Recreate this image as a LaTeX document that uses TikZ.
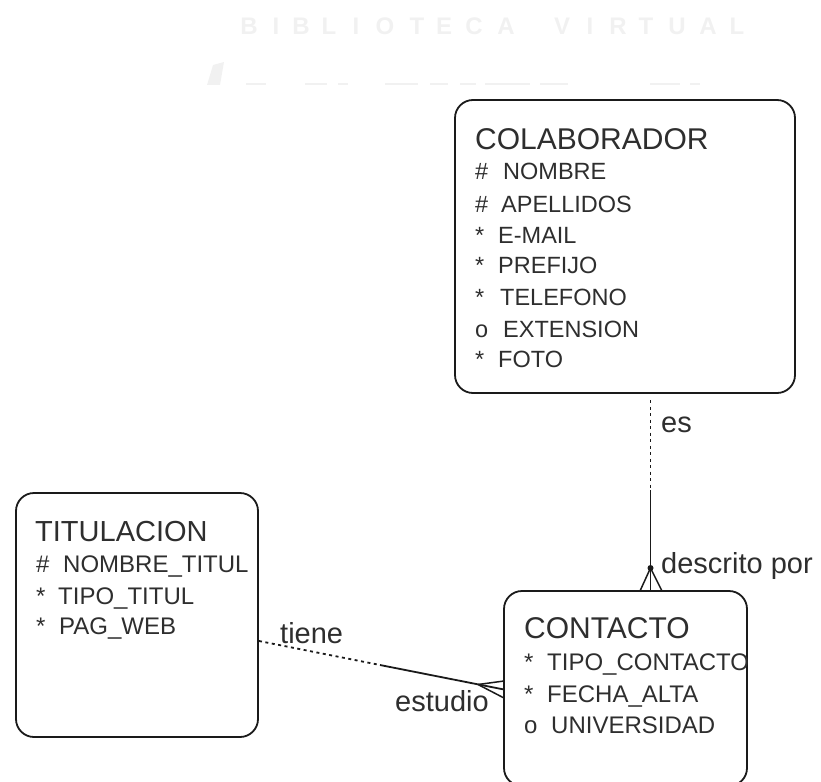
\documentclass[tikz,border=0pt]{standalone}
\usepackage{fontspec}
\setmainfont{Liberation Sans}
\definecolor{ink}{HTML}{1A1A1A}
\definecolor{txt}{HTML}{2E2E2E}
\definecolor{faint}{HTML}{F1F1F1}
\newcommand{\mk}[2]{\makebox[#1][l]{#2}}
\tikzset{
  entity/.style={draw=ink,line width=1.8pt,rounded corners=18pt,minimum width=#1,inner sep=0pt},
  title/.style={anchor=base west,text=txt,font=\fontsize{30}{30}\selectfont,inner sep=0pt},
  attr/.style={anchor=base west,text=txt,font=\fontsize{23.5}{24}\selectfont,inner sep=0pt},
  attrb/.style={anchor=base west,text=txt,font=\fontsize{24}{24}\selectfont,inner sep=0pt},
  lab/.style={anchor=base west,text=txt,font=\fontsize{29}{29}\selectfont,inner sep=0pt},
  wm/.style={text=faint,font=\bfseries\fontsize{24}{24}\selectfont,inner sep=0pt},
  rel/.style={draw=ink,line width=1.8pt},
  crow/.style={draw=ink,line width=1.5pt},
  reld/.style={draw=ink,line width=1.8pt,dash pattern=on 3pt off 3.5pt}
}
\begin{document}
\begin{tikzpicture}[x=1pt,y=-1pt]
\useasboundingbox (0,0) rectangle (821,781);
% faint watermark
\foreach \c/\x in {B/249,I/276,B/301,L/329,I/356,O/385,T/417,E/444,C/474,A/506,V/562,I/590,R/618,T/646,U/677,A/708,L/737}{
  \node[wm] at (\x,26) {\c};
}
\fill[faint] (207,85) -- (213,65) -- (224,62) -- (220,85) -- cycle;
\draw[faint,line width=2pt] (246,84) -- (266,84) (305,84) -- (327,84) (338,84) -- (348,84)
  (385,84) -- (418,84) (430,84) -- (448,84) (460,84) -- (476,84) (485,84) -- (530,84)
  (540,84) -- (568,84) (650,84) -- (680,84) (690,84) -- (700,84);
% boxes
\node[entity=340pt,minimum height=293pt] (colab) at (625,246.5) {};
\node[entity=242pt,minimum height=244pt] (titul) at (137,615) {};
\begin{scope}
\clip (490,580) rectangle (760,781);
\node[entity=243pt,minimum height=195pt] (conta) at (625.5,688.5) {};
\end{scope}
% COLABORADOR
\node[title] (c0) at (475,149) {COLABORADOR};
\node[attr] (c1) at (475,179) {\mk{28pt}{\#}NOMBRE};
\node[attr] (c2) at (475,212) {\mk{26pt}{\#}APELLIDOS};
\node[attr] (c3) at (475,243) {\mk{23pt}{*}E-MAIL};
\node[attr] (c4) at (475,273) {\mk{23pt}{*}PREFIJO};
\node[attr] (c5) at (475,305) {\mk{25pt}{*}TELEFONO};
\node[attr] (c6) at (475,337) {\mk{28pt}{o}EXTENSION};
\node[attr] (c7) at (475,367) {\mk{23pt}{*}FOTO};
% TITULACION
\node[title,font=\fontsize{29}{29}\selectfont] (t0) at (35,541) {TITULACION};
\node[attrb] (t1) at (36,572) {\mk{27pt}{\#}NOMBRE\_TITUL};
\node[attrb] (t2) at (36,604) {\mk{22pt}{*}TIPO\_TITUL};
\node[attrb] (t3) at (36,634) {\mk{23pt}{*}PAG\_WEB};
% CONTACTO
\node[title] (k0) at (524,638) {CONTACTO};
\node[attrb] (k1) at (524,670) {\mk{23pt}{*}TIPO\_CONTACTO};
\node[attrb] (k2) at (524,702) {\mk{23pt}{*}FECHA\_ALTA};
\node[attrb] (k3) at (524,733) {\mk{27pt}{o}UNIVERSIDAD};
% relationship es / descrito por
\coordinate (a1) at (650.5,400);
\coordinate (a2) at (650.5,490);
\coordinate (a3) at (650.5,591);
\coordinate (a4) at (650.5,568);
\coordinate (a5) at (640,591);
\coordinate (a6) at (662,591);
\draw[reld] (a1) -- (a2);
\draw[rel] (a2) -- (a3);
\draw[crow] (a4) -- (a5) (a4) -- (a6);
\fill[ink] (a4) circle (3pt);
\node[lab] (les) at (661,432) {es};
\node[lab] (ldes) at (661,573) {descrito por};
% relationship tiene / estudio
\coordinate (b1) at (259,641);
\coordinate (b2) at (380,665);
\coordinate (b3) at (504,689.5);
\coordinate (b4) at (478,684.5);
\coordinate (b5) at (504,681);
\coordinate (b6) at (504,698);
\draw[reld] (b1) -- (b2);
\draw[rel] (b2) -- (b3);
\draw[crow] (b4) -- (b5) (b4) -- (b6);
\node[lab] (lt) at (280,643) {tiene};
\node[lab] (lst) at (395,711) {estudio};
\end{tikzpicture}
\end{document}
